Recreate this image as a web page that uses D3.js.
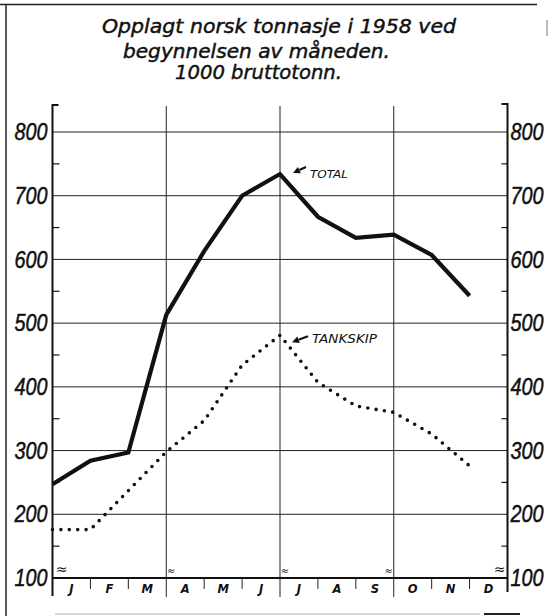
<!DOCTYPE html>
<html>
<head>
<meta charset="utf-8">
<script src="https://cdn.jsdelivr.net/npm/d3@7"></script>
<style>
  html, body { margin: 0; padding: 0; background: #fff; }
  svg { display: block; }
</style>
</head>
<body>
<svg id="chart" width="550" height="616"></svg>
<script>
// Laid-up Norwegian tonnage 1958, start of each month (1000 gross tons)
const monthLabels = ["J", "F", "M", "A", "M", "J", "J", "A", "S", "O", "N", "D"];
const totalValues = [247, 284, 297, 513, 613, 700, 734, 667, 634, 639, 607, 543];
const tankskipValues = [176, 176, 237, 298, 347, 434, 481, 407, 370, 360, 326, 276];
const yTickValues = [100, 200, 300, 400, 500, 600, 700, 800];
const yMinorTicks = [150, 250, 350, 450, 550, 650, 750];
const quarterStarts = [3, 6, 9];
const titleLines = [
  "Opplagt norsk tonnasje i 1958  ved",
  "begynnelsen av måneden.",
  "1000 bruttotonn."
];

const svg = d3.select("#chart");
const ink = "#111";
const numFont = "'Liberation Sans', 'DejaVu Sans', sans-serif";
const textFont = "'DejaVu Sans', 'Liberation Sans', sans-serif";

const x = d3.scaleBand().domain(d3.range(12)).range([52.5, 507.5]).padding(0);
const y = d3.scaleLinear().domain([100, 800]).range([578, 132]);
const xLeft = x.range()[0], xRight = x.range()[1];
const yTop = 105;

// page frame
const frame = svg.append("g").attr("stroke", "#222").attr("fill", "none");
frame.append("line").attr("x1", 0).attr("x2", 537).attr("y1", 4.5).attr("y2", 4.5).attr("stroke-width", 1.5);
frame.append("line").attr("x1", 6).attr("x2", 6).attr("y1", 4).attr("y2", 616).attr("stroke-width", 1.5);
frame.append("line").attr("x1", 547).attr("x2", 547).attr("y1", 20).attr("y2", 36).attr("stroke", "#bbb").attr("stroke-width", 2);
frame.append("line").attr("x1", 55).attr("x2", 480).attr("y1", 614).attr("y2", 614).attr("stroke", "#ccc").attr("stroke-width", 1.5);
frame.append("line").attr("x1", 484).attr("x2", 520).attr("y1", 614).attr("y2", 614).attr("stroke-width", 2);

// title
const titlePos = [
  { x: 102, y: 33, w: 354 },
  { x: 123, y: 58, w: 267 },
  { x: 175, y: 79, w: 167 }
];
svg.append("g").selectAll("text").data(titleLines).join("text")
  .attr("x", (d, i) => titlePos[i].x)
  .attr("y", (d, i) => titlePos[i].y)
  .attr("textLength", (d, i) => titlePos[i].w)
  .attr("lengthAdjust", "spacingAndGlyphs")
  .attr("font-family", textFont)
  .attr("font-style", "italic")
  .attr("font-size", 19)
  .attr("fill", ink)
  .attr("stroke", ink)
  .attr("stroke-width", 0.45)
  .text(d => d);

// horizontal gridlines
const grid = svg.append("g").attr("stroke", "#222").attr("stroke-width", 1);
grid.selectAll("line.h").data(yTickValues.filter(v => v > 100)).join("line")
  .attr("x1", xLeft).attr("x2", xRight)
  .attr("y1", d => y(d)).attr("y2", d => y(d));

// vertical quarter lines
grid.selectAll("line.v").data(quarterStarts).join("line")
  .attr("x1", d => x(d)).attr("x2", d => x(d))
  .attr("y1", yTop + 1).attr("y2", y(100) + 19);

// month ticks under the baseline
grid.selectAll("line.m").data(d3.range(1, 12).filter(i => !quarterStarts.includes(i))).join("line")
  .attr("x1", d => x(d)).attr("x2", d => x(d))
  .attr("y1", y(100)).attr("y2", y(100) + 11);

// axes frames
const axes = svg.append("g").attr("stroke", ink).attr("stroke-width", 2).attr("fill", "none");
axes.append("path").attr("d", `M${xLeft + 6},${yTop}H${xLeft}V${y(100) + 18}`);
axes.append("path").attr("d", `M${xRight - 6},${yTop - 1}H${xRight}V${y(100) + 14}`);
axes.append("line").attr("x1", xLeft).attr("x2", xRight).attr("y1", y(100)).attr("y2", y(100));

// minor ticks on both axes
const minor = svg.append("g").attr("stroke", ink).attr("stroke-width", 1.2);
minor.selectAll("line.l").data(yMinorTicks).join("line")
  .attr("x1", xLeft).attr("x2", xLeft + 7).attr("y1", d => y(d)).attr("y2", d => y(d));
minor.selectAll("line.r").data(yMinorTicks).join("line")
  .attr("x1", xRight - 6).attr("x2", xRight).attr("y1", d => y(d)).attr("y2", d => y(d));

// y labels via d3 axes (narrow italic figures)
function styleAxis(g) {
  g.select(".domain").remove();
  g.selectAll(".tick line").remove();
  g.selectAll(".tick text")
    .attr("font-family", numFont)
    .attr("font-style", "italic")
    .attr("font-size", 24)
    .attr("textLength", 33)
    .attr("lengthAdjust", "spacingAndGlyphs")
    .attr("fill", ink)
    .attr("stroke", ink)
    .attr("stroke-width", 0.5);
}
svg.append("g").attr("transform", `translate(${xLeft - 5},0)`)
  .call(d3.axisLeft(y).tickValues(yTickValues).tickSize(0).tickPadding(0).tickFormat(d3.format("d")))
  .call(styleAxis);
svg.append("g").attr("transform", `translate(${xRight + 3},0)`)
  .call(d3.axisRight(y).tickValues(yTickValues).tickSize(0).tickPadding(0).tickFormat(d3.format("d")))
  .call(styleAxis);

// month labels
svg.append("g").selectAll("text").data(monthLabels).join("text")
  .attr("x", (d, i) => x(i) + x.bandwidth() / 2)
  .attr("y", y(100) + 15)
  .attr("text-anchor", "middle")
  .attr("font-family", textFont)
  .attr("font-style", "italic")
  .attr("font-weight", "bold")
  .attr("font-size", 11.5)
  .attr("fill", ink)
  .text(d => d);

// scale-break marks just above the baseline
const breaks = [
  { x: xLeft + 9, size: 14 },
  { x: x(3) + 5, size: 10 },
  { x: x(6) + 5, size: 10 },
  { x: x(9) - 5, size: 10 },
  { x: xRight - 8, size: 14 }
];
svg.append("g").selectAll("text").data(breaks).join("text")
  .attr("x", d => d.x).attr("y", y(100) - 4)
  .attr("text-anchor", "middle")
  .attr("font-family", textFont)
  .attr("font-size", d => d.size)
  .attr("fill", ink)
  .text("≈");

// series lines
const line = d3.line().x((d, i) => x(i)).y(d => y(d));
svg.append("path").datum(tankskipValues)
  .attr("d", line)
  .attr("fill", "none")
  .attr("stroke", ink)
  .attr("stroke-width", 3.6)
  .attr("stroke-linecap", "round")
  .attr("stroke-dasharray", "0 8.4");
svg.append("path").datum(totalValues)
  .attr("d", line)
  .attr("fill", "none")
  .attr("stroke", ink)
  .attr("stroke-width", 4.2)
  .attr("stroke-linejoin", "miter");

// series annotations with small arrows
const notes = [
  { label: "TOTAL", i: 6, v: totalValues[6], dx: 13, dy: -1, tx: 310, ty: 178, w: 38, size: 11 },
  { label: "TANKSKIP", i: 6, v: tankskipValues[6], dx: 12, dy: 7, tx: 312, ty: 343, w: 65, size: 12 }
];
const noteG = svg.append("g");
notes.forEach(n => {
  const tipX = x(n.i) + n.dx, tipY = y(n.v) + n.dy;
  const tailX = n.tx - 4, tailY = tipY - 6;
  const ang = Math.atan2(tipY - tailY, tipX - tailX);
  const L = 7, W = 3.5;
  const bx = tipX - L * Math.cos(ang), by = tipY - L * Math.sin(ang);
  const px = -Math.sin(ang) * W, py = Math.cos(ang) * W;
  noteG.append("line")
    .attr("x1", tailX).attr("y1", tailY).attr("x2", bx).attr("y2", by)
    .attr("stroke", ink).attr("stroke-width", 2.2);
  noteG.append("path")
    .attr("d", `M${tipX},${tipY}L${bx + px},${by + py}L${bx - px},${by - py}Z`)
    .attr("fill", ink);
  noteG.append("text")
    .attr("x", n.tx).attr("y", n.ty)
    .attr("textLength", n.w).attr("lengthAdjust", "spacingAndGlyphs")
    .attr("font-family", textFont)
    .attr("font-style", "italic")
    .attr("font-size", n.size)
    .attr("fill", ink)
    .text(n.label);
});
</script>
</body>
</html>
